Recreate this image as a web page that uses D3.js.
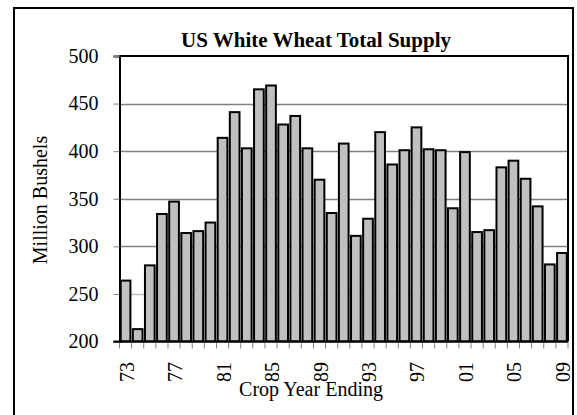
<!DOCTYPE html>
<html>
<head>
<meta charset="utf-8">
<script src="https://cdn.jsdelivr.net/npm/d3@7"></script>
<style>
  body { margin: 0; background: #fff; }
  text { font-family: "Liberation Serif", "Times New Roman", serif; fill: #000; }
</style>
</head>
<body>
<div id="chart"></div>
<script>
var years = d3.range(1973, 2010);
var supply = [264, 213, 280, 334, 347, 314, 316, 325, 414, 441, 403, 465, 469, 428, 437, 403, 370, 335,
  408, 311, 329, 420, 386, 401, 425, 402, 401, 340, 399, 315, 317, 383, 390, 371, 342, 281, 293];
var yTicks = [200, 250, 300, 350, 400, 450, 500];
var labelYears = [1973, 1977, 1981, 1985, 1989, 1993, 1997, 2001, 2005, 2009];

var W = 577, H = 415;
var svg = d3.select("#chart").append("svg")
  .attr("width", W)
  .attr("height", H);

// outer frame (bottom runs off the picture)
svg.append("rect")
  .attr("x", 14).attr("y", 8)
  .attr("width", 559).attr("height", 420)
  .attr("fill", "none").attr("stroke", "#000").attr("stroke-width", 2);

var pLeft = 119.5, pRight = 568, pTop = 56, pBottom = 341.5;

var x = d3.scaleBand()
  .domain(years)
  .range([pLeft, pRight])
  .paddingInner(0.2)
  .paddingOuter(0.1);
var y = d3.scaleLinear()
  .domain([200, 500])
  .range([pBottom, pTop]);

// gridlines
svg.append("g").selectAll("line")
  .data(yTicks.filter(function (d) { return d > 200 && d < 500; }))
  .enter().append("line")
  .attr("x1", pLeft).attr("x2", pRight)
  .attr("y1", function (d) { return Math.round(y(d)) + 0.5; })
  .attr("y2", function (d) { return Math.round(y(d)) + 0.5; })
  .attr("stroke", function (d) { return d == 250 ? "#c0c0c0" : "#808080"; })
  .attr("stroke-width", 1.5);

// bars
svg.append("g").selectAll("rect")
  .data(supply)
  .enter().append("rect")
  .attr("x", function (d, i) { return x(years[i]); })
  .attr("y", function (d) { return y(d); })
  .attr("width", x.bandwidth())
  .attr("height", function (d) { return pBottom - y(d); })
  .attr("fill", "#c0c0c0")
  .attr("stroke", "#000")
  .attr("stroke-width", 2);

// plot box top and right
svg.append("path")
  .attr("d", "M" + pLeft + "," + pTop + "H" + pRight + "V" + pBottom)
  .attr("fill", "none").attr("stroke", "#000").attr("stroke-width", 2);

// y axis
var yAxis = svg.append("g")
  .attr("transform", "translate(" + pLeft + ",0)")
  .call(d3.axisLeft(y).tickValues(yTicks).tickSize(6).tickPadding(15));
yAxis.attr("font-family", null).attr("font-size", null);
yAxis.select(".domain").attr("stroke", "#000").attr("stroke-width", 2);
yAxis.selectAll(".tick line").attr("stroke", "#808080");
yAxis.selectAll("text")
  .style("font-family", "'Liberation Serif', serif")
  .style("font-size", "20px")
  .attr("fill", "#000");

// x axis: ticks at category boundaries
var bounds = d3.range(years.length + 1).map(function (i) { return pLeft + i * (pRight - pLeft) / years.length; });
svg.append("g").selectAll("line")
  .data(bounds)
  .enter().append("line")
  .attr("x1", function (d) { return d; }).attr("x2", function (d) { return d; })
  .attr("y1", pBottom).attr("y2", pBottom + 7)
  .attr("stroke", "#808080").attr("stroke-width", 1);
svg.append("line")
  .attr("x1", pLeft - 6).attr("x2", pRight)
  .attr("y1", pBottom).attr("y2", pBottom)
  .attr("stroke", "#000").attr("stroke-width", 2);

svg.append("g").selectAll("text")
  .data(labelYears)
  .enter().append("text")
  .attr("transform", function (d) {
    return "translate(" + (x(d) + x.bandwidth() / 2 + 8) + "," + 362 + ") rotate(-90)";
  })
  .attr("text-anchor", "end")
  .style("font-size", "20px")
  .text(function (d) { return String(d).slice(2); });

// titles
svg.append("text")
  .attr("x", 316).attr("y", 47)
  .attr("text-anchor", "middle")
  .style("font-size", "21px")
  .style("font-weight", "bold")
  .text("US White Wheat Total Supply");

svg.append("text")
  .attr("x", 311).attr("y", 396)
  .attr("text-anchor", "middle")
  .style("font-size", "20px")
  .text("Crop Year Ending");

svg.append("text")
  .attr("transform", "translate(47,200) rotate(-90)")
  .attr("text-anchor", "middle")
  .style("font-size", "20px")
  .text("Million Bushels");
</script>
</body>
</html>
